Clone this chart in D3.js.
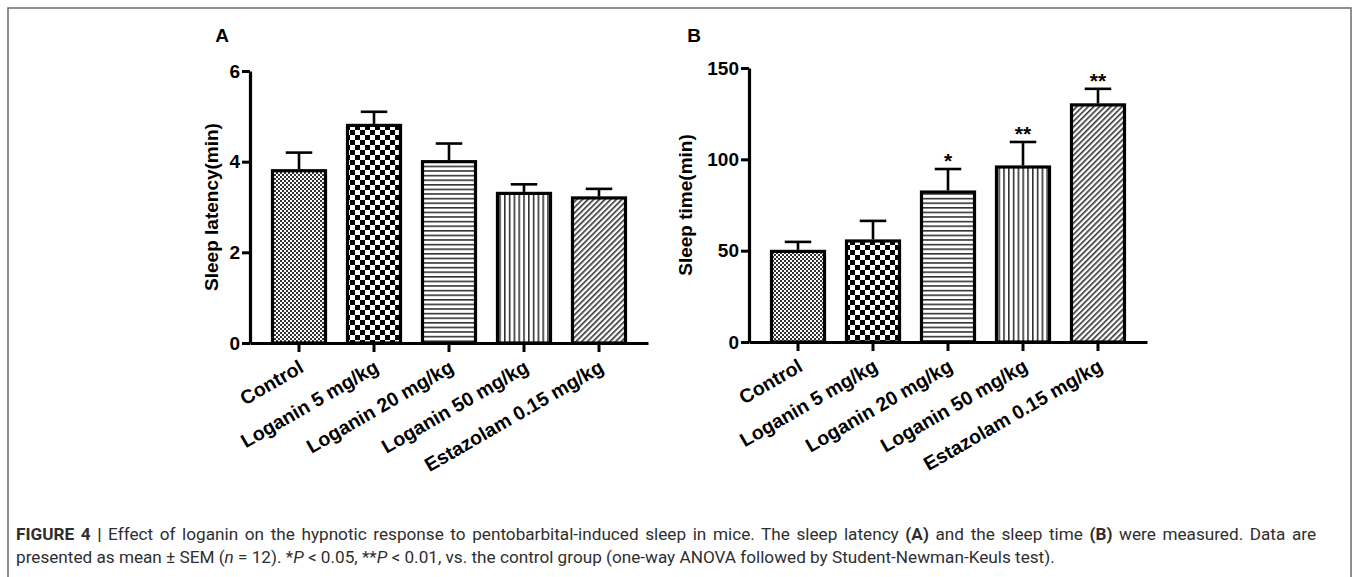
<!DOCTYPE html>
<html>
<head>
<meta charset="utf-8">
<script src="https://cdn.jsdelivr.net/npm/d3@7"></script>
<style>
  html, body { margin: 0; padding: 0; background: #fff; }
  svg { display: block; }
</style>
</head>
<body>
<svg id="chart" width="1358" height="577"></svg>
<script>
// ---- Data ----
const categories = ["Control", "Loganin 5 mg/kg", "Loganin 20 mg/kg", "Loganin 50 mg/kg", "Estazolam 0.15 mg/kg"];
const patternIds = ["p-fine", "p-check", "p-hlines", "p-vlines", "p-diag"];
const latencyMean = [3.8, 4.8, 4.0, 3.3, 3.2];
const latencySEM  = [0.4, 0.3, 0.4, 0.2, 0.2];
const sleepTimeMean = [49.6, 55.3, 82.1, 95.8, 129.8];
const sleepTimeSEM  = [5.2, 11.0, 12.6, 13.7, 8.8];
const sleepTimeSig  = ["", "", "*", "**", "**"];
const latencyTicks = [0, 2, 4, 6];
const sleepTimeTicks = [0, 50, 100, 150];

const svg = d3.select("#chart");
const FONT = "'Liberation Sans', Arial, sans-serif";

// ---- Frame ----
svg.append("rect").attr("x", 8).attr("y", 8).attr("width", 1343).attr("height", 620)
  .attr("fill", "none").attr("stroke", "#6a6a6a").attr("stroke-width", 1.5);

// ---- Patterns ----
const defs = svg.append("defs");
function pat(id, w, h) {
  const p = defs.append("pattern").attr("id", id).attr("patternUnits", "userSpaceOnUse")
    .attr("width", w).attr("height", h);
  p.append("rect").attr("width", w).attr("height", h).attr("fill", "#fff");
  return p;
}
let p = pat("p-fine", 4, 4);
p.append("rect").attr("x", 0).attr("y", 0).attr("width", 2).attr("height", 2).attr("fill", "#333");
p.append("rect").attr("x", 2).attr("y", 2).attr("width", 2).attr("height", 2).attr("fill", "#333");
p = pat("p-check", 10, 10);
p.append("rect").attr("x", 0).attr("y", 0).attr("width", 5).attr("height", 5).attr("fill", "#000");
p.append("rect").attr("x", 5).attr("y", 5).attr("width", 5).attr("height", 5).attr("fill", "#000");
p = pat("p-hlines", 10, 4.6);
p.append("rect").attr("x", 0).attr("y", 0).attr("width", 10).attr("height", 1.6).attr("fill", "#333");
p = pat("p-vlines", 4.8, 10);
p.append("rect").attr("x", 0).attr("y", 0).attr("width", 1.6).attr("height", 10).attr("fill", "#333");
p = defs.append("pattern").attr("id", "p-diag").attr("patternUnits", "userSpaceOnUse")
  .attr("width", 4).attr("height", 4).attr("patternTransform", "rotate(45)");
p.append("rect").attr("width", 4).attr("height", 4).attr("fill", "#fff");
p.append("rect").attr("x", 0).attr("y", 0).attr("width", 1.6).attr("height", 4).attr("fill", "#333");

// ---- Panel builder ----
function panel(opts) {
  const g = svg.append("g");
  const x = d3.scaleBand().domain(categories).range(opts.xRange).paddingInner(0.293).paddingOuter(0.3);
  const y = d3.scaleLinear().domain(opts.domain).range(opts.yRange);

  // bars
  g.selectAll("rect.bar").data(categories).join("rect").attr("class", "bar")
    .attr("x", d => x(d)).attr("width", x.bandwidth())
    .attr("y", (d, i) => y(opts.mean[i]))
    .attr("height", (d, i) => y(0) - y(opts.mean[i]))
    .attr("fill", (d, i) => `url(#${patternIds[i]})`)
    .attr("stroke", "#000").attr("stroke-width", 3.2);

  // error bars
  const capW = x.bandwidth() * 0.5;
  categories.forEach((c, i) => {
    const cx = x(c) + x.bandwidth() / 2;
    const y0 = y(opts.mean[i]), y1 = y(opts.mean[i] + opts.sem[i]);
    g.append("line").attr("x1", cx).attr("x2", cx).attr("y1", y0 - 1.5).attr("y2", y1)
      .attr("stroke", "#000").attr("stroke-width", 2.6);
    g.append("line").attr("x1", cx - capW / 2).attr("x2", cx + capW / 2).attr("y1", y1).attr("y2", y1)
      .attr("stroke", "#000").attr("stroke-width", 2.6);
    if (opts.sig && opts.sig[i]) {
      g.append("text").attr("x", cx).attr("y", y1 - 1).attr("text-anchor", "middle")
        .attr("font-family", FONT).attr("font-weight", "bold").attr("font-size", 21)
        .text(opts.sig[i]);
    }
  });

  // y axis
  const ya = g.append("g").attr("transform", `translate(${opts.xRange[0]},0)`)
    .call(d3.axisLeft(y).tickValues(opts.ticks).tickFormat(d3.format("d"))
      .tickSize(8).tickSizeOuter(0).tickPadding(2));
  ya.select(".domain").attr("stroke-width", 3.2);
  ya.selectAll(".tick line").attr("stroke-width", 3);
  ya.selectAll(".tick text").attr("font-family", FONT).attr("font-weight", "bold")
    .attr("font-size", 19).attr("fill", "#000");

  // x axis
  const xa = g.append("g").attr("transform", `translate(0,${y(0)})`)
    .call(d3.axisBottom(x).tickSize(9).tickSizeOuter(0).tickPadding(0));
  xa.select(".domain").attr("stroke-width", 3.2);
  xa.selectAll(".tick line").attr("stroke-width", 3);
  xa.selectAll(".tick text").attr("font-family", FONT).attr("font-weight", "bold")
    .attr("font-size", 19.5).attr("fill", "#000")
    .attr("text-anchor", "end").attr("dy", null).attr("y", 0)
    .attr("transform", "translate(6,28) rotate(-30)");

  // y title
  const midY = (opts.yRange[0] + opts.yRange[1]) / 2;
  g.append("text").attr("transform", `translate(${opts.titleX},${midY}) rotate(-90)`)
    .attr("text-anchor", "middle").attr("dy", "0.35em")
    .attr("font-family", FONT).attr("font-weight", "bold").attr("font-size", 19)
    .text(opts.title);

  // panel letter
  g.append("text").attr("x", opts.letterX).attr("y", 42).attr("text-anchor", "middle")
    .attr("font-family", FONT).attr("font-weight", "bold").attr("font-size", 19)
    .text(opts.letter);
}

panel({ xRange: [250, 648], yRange: [343, 71], domain: [0, 6], ticks: latencyTicks,
  mean: latencyMean, sem: latencySEM, title: "Sleep latency(min)", titleX: 211,
  letter: "A", letterX: 222 });
panel({ xRange: [749, 1147], yRange: [342, 68], domain: [0, 150], ticks: sleepTimeTicks,
  mean: sleepTimeMean, sem: sleepTimeSEM, sig: sleepTimeSig, title: "Sleep time(min)", titleX: 685,
  letter: "B", letterX: 694 });

// ---- Caption (first line justified, last line ragged) ----
const CAPFONT = "Roboto, 'Liberation Sans', sans-serif";
const cap = svg.append("g").attr("font-family", CAPFONT).attr("font-size", 15).attr("fill", "#2e2e2e");
const l1 = cap.append("text").attr("x", 16).attr("y", 540);
l1.append("tspan").attr("font-weight", "bold").text("FIGURE 4 |");
l1.append("tspan").text(" Effect of loganin on the hypnotic response to pentobarbital-induced sleep in mice. The sleep latency ");
l1.append("tspan").attr("font-weight", "bold").text("(A)");
l1.append("tspan").text(" and the sleep time ");
l1.append("tspan").attr("font-weight", "bold").text("(B)");
l1.append("tspan").text(" were measured. Data are");
const l2 = cap.append("text").attr("x", 16).attr("y", 563);
l2.append("tspan").text("presented as mean \u00B1 SEM (");
l2.append("tspan").attr("font-style", "italic").text("n");
l2.append("tspan").text(" = 12). *");
l2.append("tspan").attr("font-style", "italic").text("P");
l2.append("tspan").text(" < 0.05, **");
l2.append("tspan").attr("font-style", "italic").text("P");
l2.append("tspan").text(" < 0.01, vs. the control group (one-way ANOVA followed by Student-Newman-Keuls test).");
// size the font from the last line, then justify the first line with word spacing
const nat2 = l2.node().getComputedTextLength();
const fs = 15 * 1040 / nat2;
cap.attr("font-size", fs);
const nat1 = l1.node().getComputedTextLength();
const spaces = (l1.text().match(/ /g) || []).length;
l1.attr("word-spacing", Math.max(0, (1300 - nat1) / spaces));
</script>
</body>
</html>
